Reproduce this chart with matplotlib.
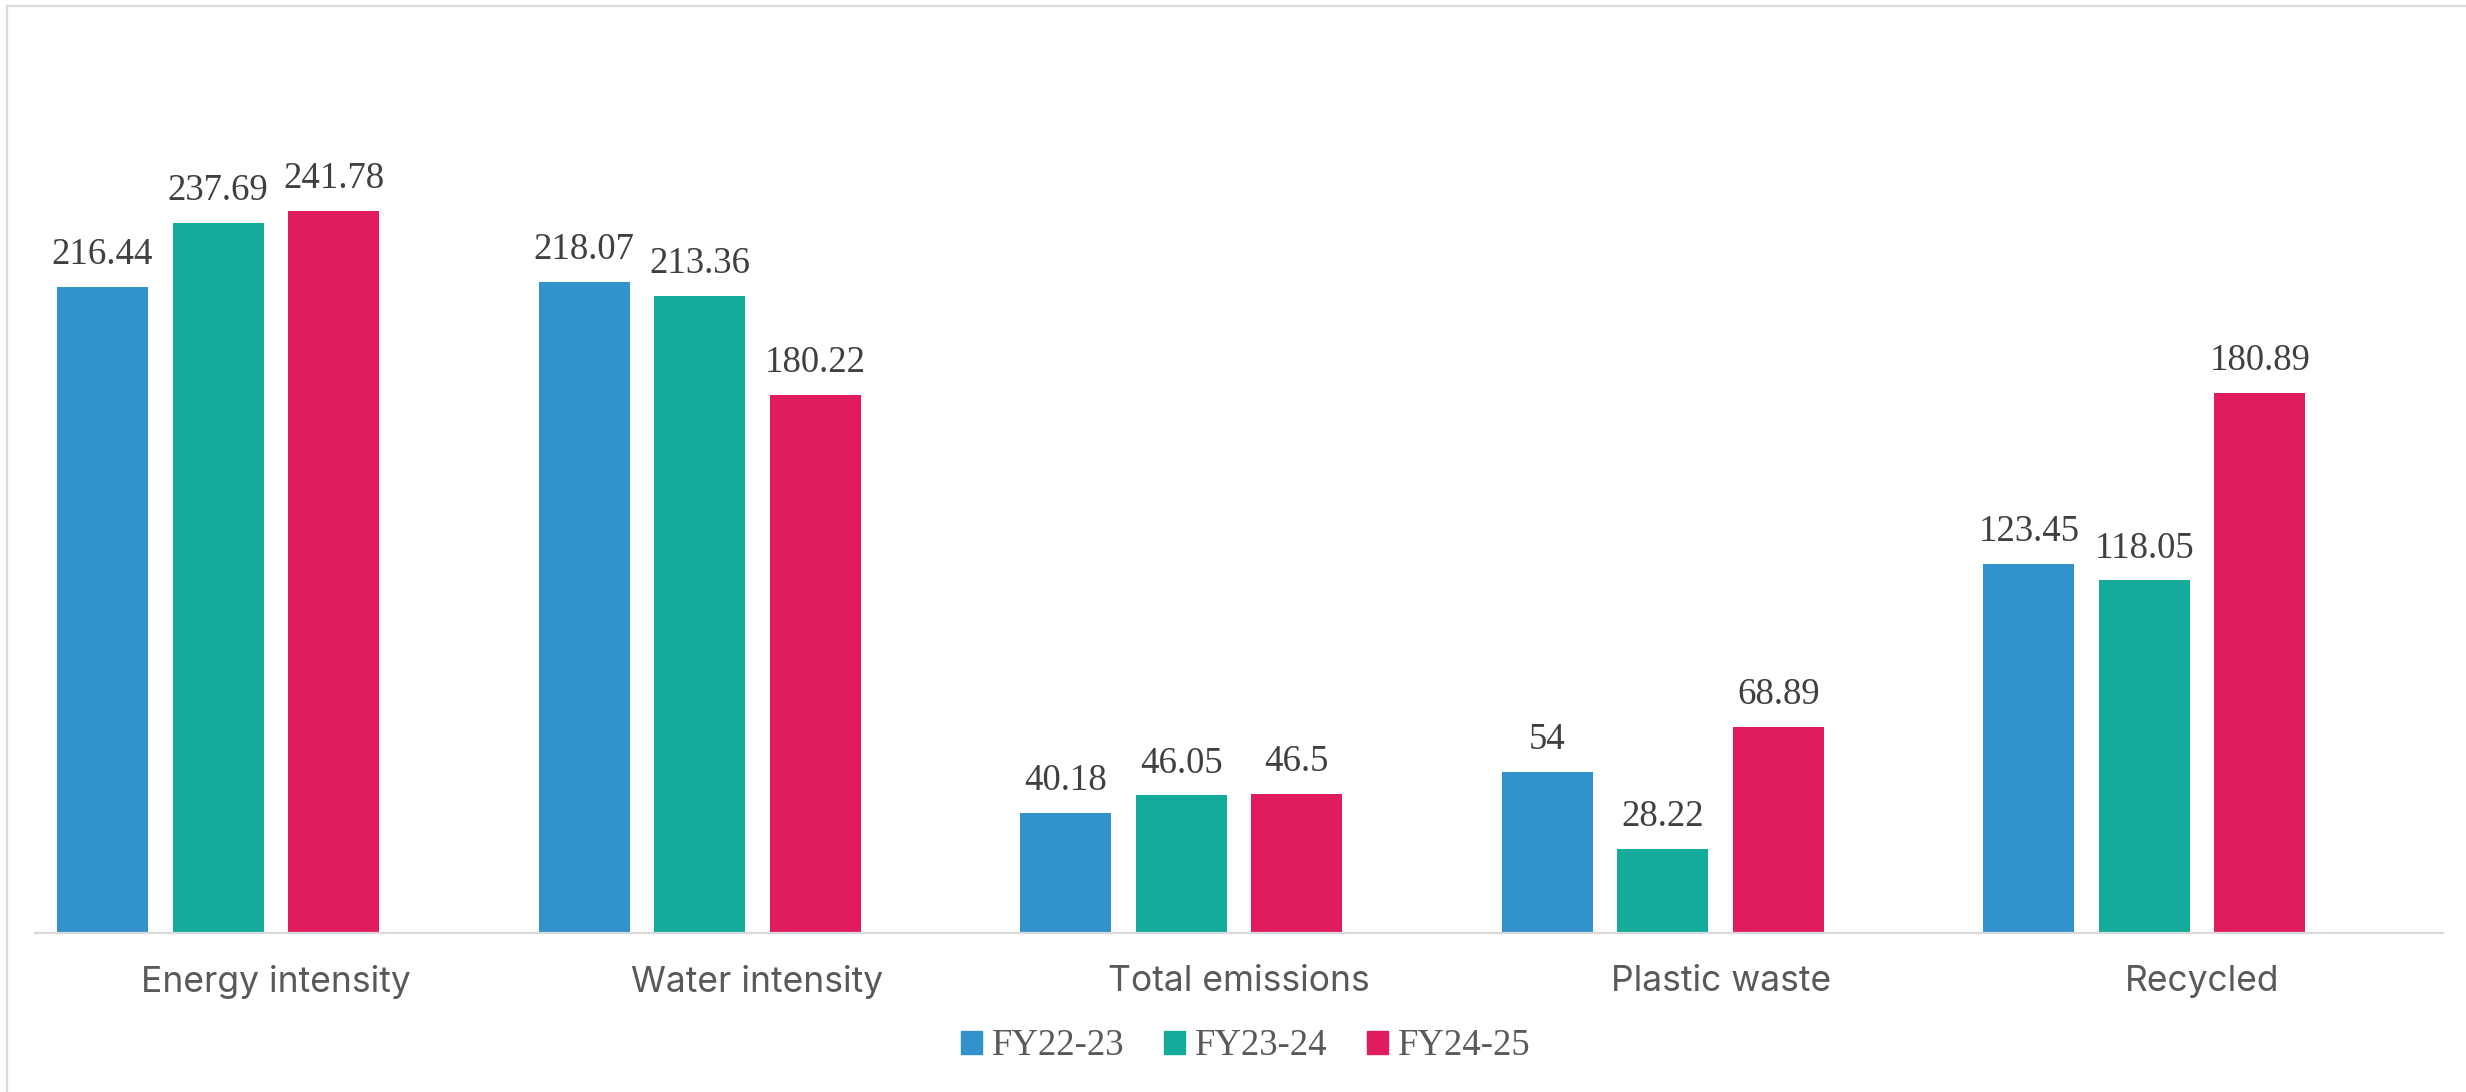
import numpy as np
import matplotlib
matplotlib.use("Agg")
import matplotlib.pyplot as plt
from matplotlib.patches import Patch
from matplotlib.lines import Line2D

categories = ["Energy intensity", "Water intensity", "Total emissions", "Plastic waste", "Recycled"]
series_names = ["FY22-23", "FY23-24", "FY24-25"]
fy22_23 = [216.44, 218.07, 40.18, 54, 123.45]
fy23_24 = [237.69, 213.36, 46.05, 28.22, 118.05]
fy24_25 = [241.78, 180.22, 46.5, 68.89, 180.89]
colors = ["#3192CC", "#15AB9B", "#E01C5C"]

DPI = 100
fig = plt.figure(figsize=(24.66, 10.92), dpi=DPI)
ax = fig.add_axes([35 / 2466, 159 / 1092, 2408 / 2466, 896 / 1092])

x = np.arange(len(categories))
slot = 0.2398      # Excel layout has room for a fourth (empty) series
bar_w = 0.189
label_font = {"family": "Liberation Serif", "size": 26.5, "color": "#404040"}

for i, (name, vals) in enumerate(zip(series_names, [fy22_23, fy23_24, fy24_25])):
    pos = x + (i - 1.5) * slot
    bars = ax.bar(pos, vals, width=bar_w, color=colors[i], label=name, zorder=2)
    for b, v in zip(bars, vals):
        ax.annotate(f"{v:g}", (b.get_x() + b.get_width() / 2, b.get_height()),
                    xytext=(0, 16.5), textcoords="offset points",
                    ha="center", va="baseline", **label_font)

ax.set_xlim(-0.5, len(categories) - 0.5)
ax.set_ylim(0, 300)
ax.set_yticks([])
ax.set_xticks(x)
ax.set_xticklabels(categories, family="Inter", fontsize=25.5, color="#595959")
ax.tick_params(axis="x", length=0, pad=23)
for s in ["top", "right", "left"]:
    ax.spines[s].set_visible(False)
ax.spines["bottom"].set_color("#D9D9D9")
ax.spines["bottom"].set_linewidth(1.6)

# outer chart border (only left and top edges are inside the image)
fig.add_artist(Line2D([7 / 2466, 7 / 2466], [0, 1 - 6 / 1092], color="#D9D9D9", lw=1.6))
fig.add_artist(Line2D([7 / 2466, 1], [1 - 6 / 1092, 1 - 6 / 1092], color="#D9D9D9", lw=1.6))

handles = [Patch(color=c, label=n) for c, n in zip(colors, series_names)]
leg = fig.legend(handles=handles, loc="center", bbox_to_anchor=(1246 / 2466, 1 - 1046 / 1092),
                 ncol=3, frameon=False, handlelength=0.57, handleheight=0.57,
                 handletextpad=0.27, columnspacing=1.08,
                 prop={"family": "Liberation Serif", "size": 26.5})
for t in leg.get_texts():
    t.set_color("#595959")

fig.savefig("out.png", dpi=DPI)
